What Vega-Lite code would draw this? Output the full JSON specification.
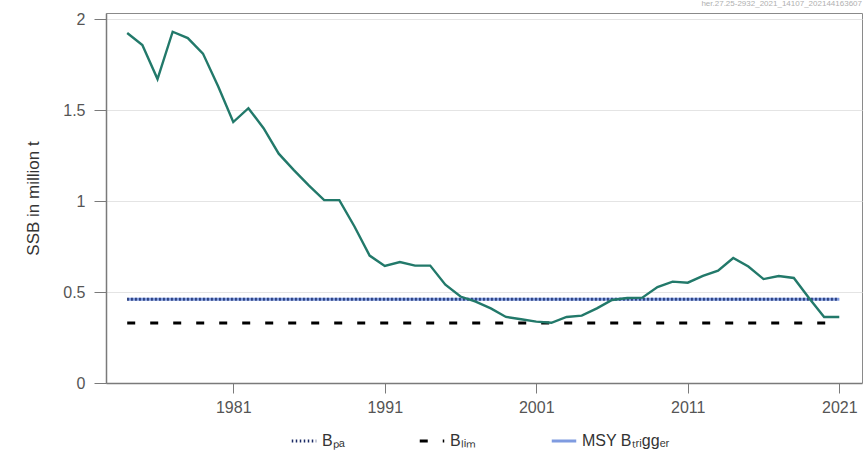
{
  "$schema": "https://vega.github.io/schema/vega-lite/v6.json",
  "width": 756,
  "height": 370,
  "autosize": {"type": "none"},
  "padding": {"left": 106, "top": 13, "right": 2, "bottom": 76},
  "background": "white",
  "title": {"text": "her.27.25-2932_2021_14107_202144163607", "anchor": "end", "fontSize": 8, "fontWeight": "normal", "color": "#b0b0b0", "font": "Liberation Sans", "offset": 3, "frame": "group"},
  "config": {
    "font": "Liberation Sans",
    "view": {"stroke": "#8a8a8a", "strokeWidth": 1},
    "axis": {"labelFont": "Liberation Sans", "titleFont": "Liberation Sans", "labelColor": "#555", "titleColor": "#333", "domainColor": "#7a7a7a", "tickColor": "#7a7a7a", "gridColor": "#e4e4e4"}
  },
  "datasets": {
    "ssb": [
      {"year": 1974, "ssb": 1.923}, {"year": 1975, "ssb": 1.857}, {"year": 1976, "ssb": 1.67},
      {"year": 1977, "ssb": 1.93}, {"year": 1978, "ssb": 1.895}, {"year": 1979, "ssb": 1.81},
      {"year": 1980, "ssb": 1.63}, {"year": 1981, "ssb": 1.434}, {"year": 1982, "ssb": 1.51},
      {"year": 1983, "ssb": 1.40}, {"year": 1984, "ssb": 1.26}, {"year": 1985, "ssb": 1.17},
      {"year": 1986, "ssb": 1.085}, {"year": 1987, "ssb": 1.005}, {"year": 1988, "ssb": 1.005},
      {"year": 1989, "ssb": 0.86}, {"year": 1990, "ssb": 0.70}, {"year": 1991, "ssb": 0.643},
      {"year": 1992, "ssb": 0.665}, {"year": 1993, "ssb": 0.645}, {"year": 1994, "ssb": 0.645},
      {"year": 1995, "ssb": 0.54}, {"year": 1996, "ssb": 0.475}, {"year": 1997, "ssb": 0.447},
      {"year": 1998, "ssb": 0.41}, {"year": 1999, "ssb": 0.363}, {"year": 2000, "ssb": 0.35},
      {"year": 2001, "ssb": 0.337}, {"year": 2002, "ssb": 0.331}, {"year": 2003, "ssb": 0.363},
      {"year": 2004, "ssb": 0.37}, {"year": 2005, "ssb": 0.41}, {"year": 2006, "ssb": 0.456},
      {"year": 2007, "ssb": 0.467}, {"year": 2008, "ssb": 0.469}, {"year": 2009, "ssb": 0.527},
      {"year": 2010, "ssb": 0.557}, {"year": 2011, "ssb": 0.551}, {"year": 2012, "ssb": 0.588},
      {"year": 2013, "ssb": 0.617}, {"year": 2014, "ssb": 0.687}, {"year": 2015, "ssb": 0.64},
      {"year": 2016, "ssb": 0.571}, {"year": 2017, "ssb": 0.588}, {"year": 2018, "ssb": 0.577},
      {"year": 2019, "ssb": 0.467}, {"year": 2020, "ssb": 0.363}, {"year": 2021, "ssb": 0.363}
    ],
    "refs": [
      {"name": "MSY Bₜᵣᵢggₑᵣ", "value": 0.46, "start": 1974, "end": 2021},
      {"name": "Bₗᵢₘ", "value": 0.33, "start": 1974, "end": 2021},
      {"name": "Bₚₐ", "value": 0.46, "start": 1974, "end": 2021}
    ]
  },
  "layer": [
    {
      "data": {"name": "refs"},
      "mark": {"type": "rule", "strokeWidth": 3},
      "encoding": {
        "x": {"field": "start", "type": "quantitative"},
        "x2": {"field": "end"},
        "y": {"field": "value", "type": "quantitative"},
        "color": {
          "field": "name", "type": "nominal",
          "scale": {"domain": ["Bₚₐ", "Bₗᵢₘ", "MSY Bₜᵣᵢggₑᵣ"], "range": ["#1c2c66", "#000000", "#7f9be0"]},
          "legend": {"title": null, "orient": "none", "legendX": 184, "legendY": 414, "direction": "horizontal", "symbolType": "stroke", "symbolSize": 600, "symbolStrokeWidth": 3, "labelFontSize": 16, "labelColor": "#333", "columnPadding": 68, "labelFont": "Liberation Sans"}
        },
        "strokeDash": {
          "field": "name", "type": "nominal",
          "scale": {"domain": ["Bₚₐ", "Bₗᵢₘ", "MSY Bₜᵣᵢggₑᵣ"], "range": [[1.5, 2.5], [8, 15], [1, 0]]},
          "legend": {"title": null, "orient": "none", "legendX": 184, "legendY": 414, "direction": "horizontal", "symbolType": "stroke", "symbolSize": 600, "symbolStrokeWidth": 3, "labelFontSize": 16, "labelColor": "#333", "columnPadding": 68, "labelFont": "Liberation Sans"}
        }
      }
    },
    {
      "data": {"name": "ssb"},
      "mark": {"type": "line", "color": "#22796a", "strokeWidth": 2.4},
      "encoding": {
        "x": {
          "field": "year", "type": "quantitative",
          "scale": {"domain": [1972.6, 2022.5], "nice": false, "zero": false},
          "axis": {"title": null, "values": [1981, 1991, 2001, 2011, 2021], "format": "d", "grid": false, "tickSize": 10, "labelFontSize": 16, "labelPadding": 6, "domainWidth": 1.5}
        },
        "y": {
          "field": "ssb", "type": "quantitative",
          "scale": {"domain": [0, 2.033], "nice": false},
          "axis": {"title": "SSB in million t", "values": [0, 0.5, 1, 1.5, 2], "labelExpr": "datum.value", "grid": true, "tickSize": 12, "labelFontSize": 16, "titleFontSize": 17, "titleFontWeight": "normal", "labelPadding": 9, "titlePadding": 20, "domainWidth": 1.5}
        }
      }
    }
  ]
}
